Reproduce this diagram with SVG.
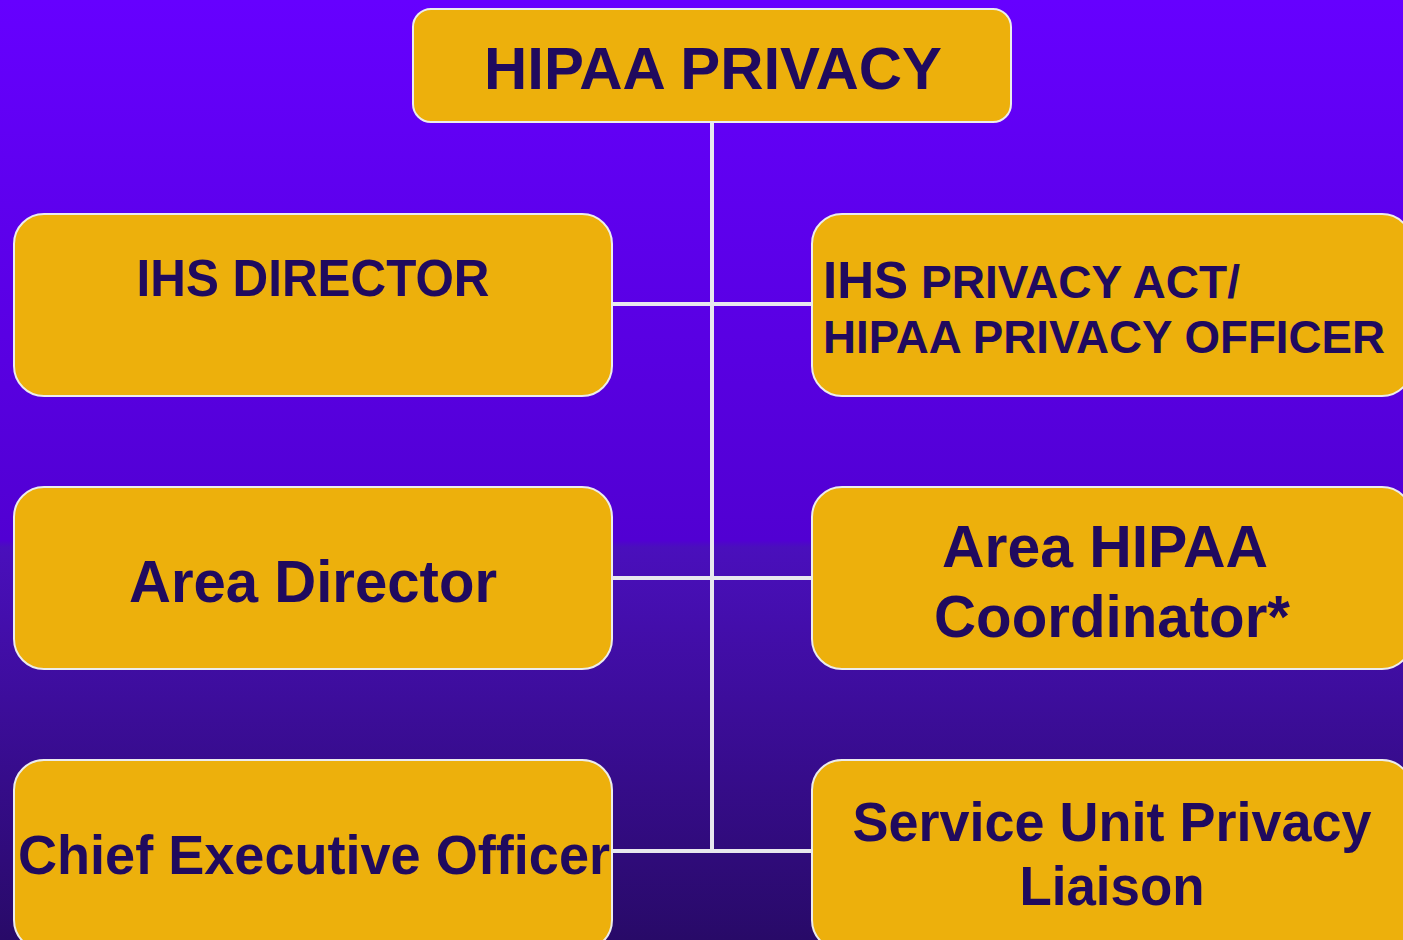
<svg xmlns="http://www.w3.org/2000/svg" width="1403" height="940" viewBox="0 0 1403 940">
  <defs>
    <linearGradient id="bg" x1="0" y1="0" x2="0" y2="1">
      <stop offset="0" stop-color="#6600ff"/>
      <stop offset="0.575" stop-color="#5100d2"/>
      <stop offset="0.582" stop-color="#4a0fbc"/>
      <stop offset="1" stop-color="#280a68"/>
    </linearGradient>
    <style>
      .box { fill: #edb00c; stroke: #ececec; stroke-width: 2; }
      .lbl { font-family: "Liberation Sans", Arial, sans-serif; font-weight: bold; fill: #200a5e; }
      .mid { text-anchor: middle; }
      .wire { stroke: #e8e8ee; stroke-width: 4; fill: none; }
    </style>
  </defs>

  <rect x="0" y="0" width="1403" height="940" fill="url(#bg)"/>

  <!-- connectors -->
  <g id="connectors">
    <line class="wire" x1="712" y1="122" x2="712" y2="853"/>
    <line class="wire" x1="612" y1="304" x2="812" y2="304"/>
    <line class="wire" x1="612" y1="578" x2="812" y2="578"/>
    <line class="wire" x1="612" y1="851" x2="812" y2="851"/>
  </g>

  <g id="hipaa-privacy">
    <rect class="box" x="413" y="9" width="598" height="113" rx="18"/>
    <text class="lbl mid" x="713" y="89" font-size="60" textLength="458" lengthAdjust="spacingAndGlyphs">HIPAA PRIVACY</text>
  </g>

  <g id="ihs-director">
    <rect class="box" x="14" y="214" width="598" height="182" rx="30"/>
    <text class="lbl mid" x="313" y="296" font-size="51" textLength="353" lengthAdjust="spacingAndGlyphs">IHS DIRECTOR</text>
  </g>

  <g id="privacy-officer">
    <rect class="box" x="812" y="214" width="600" height="182" rx="30"/>
    <text class="lbl" x="823" y="298" font-size="46" textLength="417" lengthAdjust="spacingAndGlyphs"><tspan font-size="51">IHS</tspan> PRIVACY ACT/</text>
    <text class="lbl" x="823" y="353" font-size="46" textLength="562" lengthAdjust="spacingAndGlyphs">HIPAA PRIVACY OFFICER</text>
  </g>

  <g id="area-director">
    <rect class="box" x="14" y="487" width="598" height="182" rx="30"/>
    <text class="lbl mid" x="313" y="602" font-size="60" textLength="368" lengthAdjust="spacingAndGlyphs">Area Director</text>
  </g>

  <g id="area-coordinator">
    <rect class="box" x="812" y="487" width="600" height="182" rx="30"/>
    <text class="lbl mid" x="1105" y="567" font-size="59" textLength="326" lengthAdjust="spacingAndGlyphs">Area HIPAA</text>
    <text class="lbl mid" x="1112" y="637" font-size="59" textLength="356" lengthAdjust="spacingAndGlyphs">Coordinator*</text>
  </g>

  <g id="chief-executive">
    <rect class="box" x="14" y="760" width="598" height="190" rx="30"/>
    <text class="lbl mid" x="314" y="874" font-size="56" textLength="592" lengthAdjust="spacingAndGlyphs">Chief Executive Officer</text>
  </g>

  <g id="service-unit-liaison">
    <rect class="box" x="812" y="760" width="600" height="190" rx="30"/>
    <text class="lbl mid" x="1112" y="841" font-size="55" textLength="519" lengthAdjust="spacingAndGlyphs">Service Unit Privacy</text>
    <text class="lbl mid" x="1112" y="905" font-size="55" textLength="185" lengthAdjust="spacingAndGlyphs">Liaison</text>
  </g>
</svg>
